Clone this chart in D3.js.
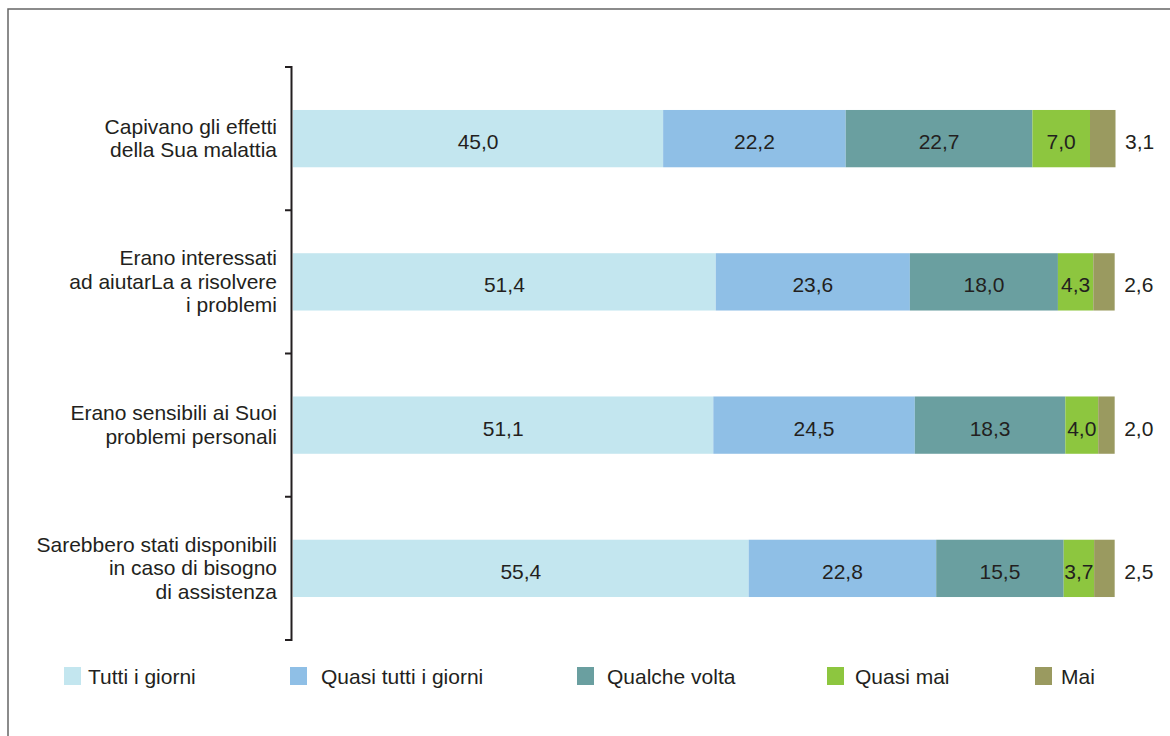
<!DOCTYPE html>
<html><head><meta charset="utf-8">
<script src="https://cdn.jsdelivr.net/npm/d3@7"></script>
<style>body{margin:0;background:#fff}svg{display:block;font-family:"Liberation Sans",Arial,sans-serif}</style>
</head><body><svg id="c" width="1170" height="736"></svg>
<script>
const categories = [
  ["Capivano gli effetti","della Sua malattia"],
  ["Erano interessati","ad aiutarLa a risolvere","i problemi"],
  ["Erano sensibili ai Suoi","problemi personali"],
  ["Sarebbero stati disponibili","in caso di bisogno","di assistenza"]
];
const seriesNames = ["Tutti i giorni","Quasi tutti i giorni","Qualche volta","Quasi mai","Mai"];
const colors = ["#c3e6ef","#8fbfe6","#6a9fa0","#8dc63f","#9a9a60"];
const tuttiGiorni = [45.0,51.4,51.1,55.4];
const quasiTutti = [22.2,23.6,24.5,22.8];
const qualcheVolta = [22.7,18.0,18.3,15.5];
const quasiMai = [7.0,4.3,4.0,3.7];
const mai = [3.1,2.6,2.0,2.5];
const series = [tuttiGiorni,quasiTutti,qualcheVolta,quasiMai,mai];
const fmt = v => v.toFixed(1).replace(".", ",");

const svg = d3.select("#c");
const textCol = "#231f20";
// frame
svg.append("path").attr("d","M8,736V9H1170").attr("fill","none").attr("stroke","#666").attr("stroke-width",1.5);

const idx = categories.map((d,i)=>i);
const y = d3.scaleBand().domain(idx).range([67,640]).paddingInner(0.6).paddingOuter(0.3);
const x = d3.scaleLinear().domain([0,100]).range([293,1115.5]);

// axis line with category boundary ticks
const axisX = 291.5;
const step = (640-67)/categories.length;
const bounds = d3.range(categories.length+1).map(i=>67+i*step);
svg.append("line").attr("x1",axisX).attr("x2",axisX).attr("y1",66).attr("y2",641).attr("stroke","#231f20").attr("stroke-width",2);
svg.selectAll(".tk").data(bounds).join("line").attr("x1",285).attr("x2",axisX).attr("y1",d=>d).attr("y2",d=>d).attr("stroke","#231f20").attr("stroke-width",2);

// category labels
categories.forEach((lines,i)=>{
  const cy = y(i)+y.bandwidth()/2;
  const lh = 23.4;
  const t = svg.append("text").attr("text-anchor","end").attr("font-size",21).attr("fill",textCol);
  lines.forEach((l,j)=>{
    t.append("tspan").attr("x",277).attr("y",cy + (j-(lines.length-1)/2)*lh + 7).text(l);
  });
});

// stacked bars
const stackData = idx.map(i=>{const o={i}; series.forEach((s,k)=>o[k]=s[i]); return o;});
const stack = d3.stack().keys(series.map((s,k)=>k))(stackData);
stack.forEach((layer,k)=>{
  const g = svg.append("g");
  g.selectAll("rect").data(layer).join("rect")
    .attr("x",d=>x(d[0])).attr("width",d=>x(d[1])-x(d[0]))
    .attr("y",(d,i)=>y(i)).attr("height",y.bandwidth()).attr("fill",colors[k]);
  g.selectAll("text").data(layer).join("text")
    .attr("x",(d,i)=> k===4 ? x(d[1])+9.5 : (x(d[0])+x(d[1]))/2)
    .attr("y",(d,i)=>y(i)+y.bandwidth()/2+10.5)
    .attr("text-anchor", k===4 ? "start" : "middle")
    .attr("font-size",21).attr("fill",textCol)
    .text((d,i)=>fmt(series[k][i]));
});

// legend
const legX = [64,290,577,827,1035];
const legTX = [88,321,607,855,1061];
seriesNames.forEach((n,k)=>{
  svg.append("rect").attr("x",legX[k]).attr("y",667).attr("width",17).attr("height",18).attr("fill",colors[k]);
  svg.append("text").attr("x",legTX[k]).attr("y",684).attr("font-size",21).attr("fill",textCol).text(n);
});
</script></body></html>
